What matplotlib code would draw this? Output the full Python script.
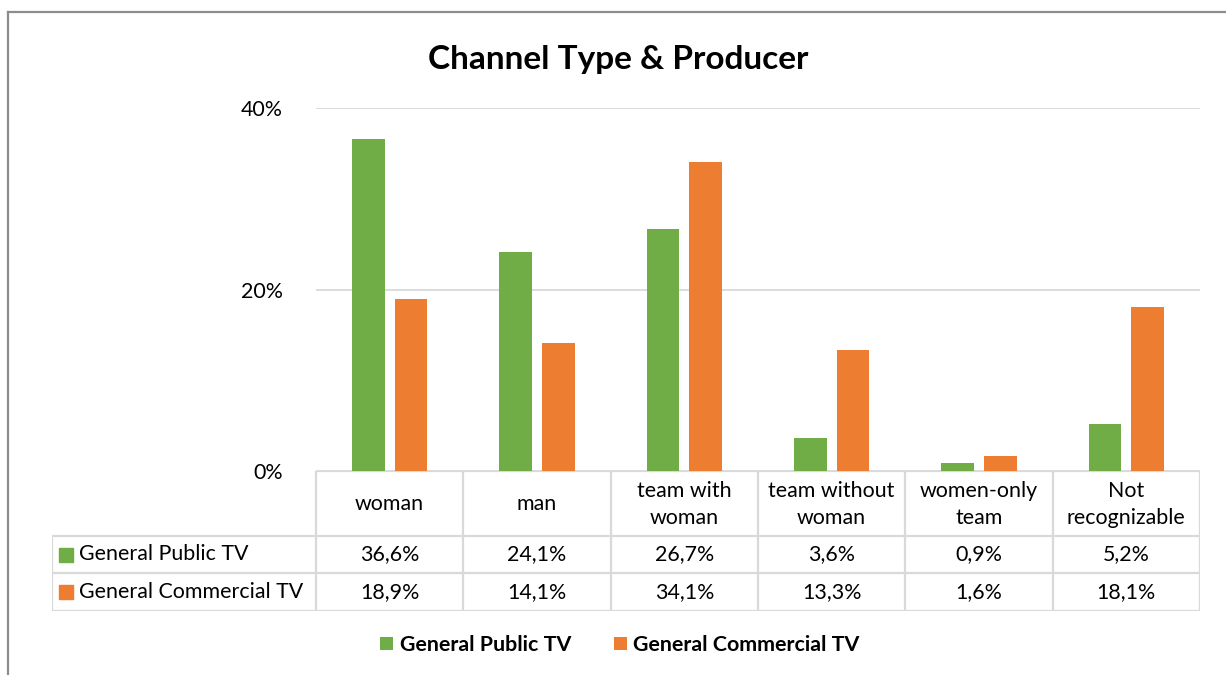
import numpy as np
import matplotlib.pyplot as plt
from matplotlib.lines import Line2D

# -----------------------------------
# DATOS
# -----------------------------------

categorias = ["woman", "man", "team with\nwoman", "team without\nwoman",
              "women-only\nteam", "Not\nrecognizable"]
series = ["General Public TV", "General Commercial TV"]
publico = [36.6, 24.1, 26.7, 3.6, 0.9, 5.2]
comercial = [18.9, 14.1, 34.1, 13.3, 1.6, 18.1]
ticks_y = [0, 20, 40]

VERDE = "#70AD47"
NARANJA = "#ED7D31"
GRIS_LINEA = "#D9D9D9"
TEXTO = "#000000"
FS = 15.4

plt.rcParams['font.family'] = ['Lato', 'DejaVu Sans']

W, H = 1226, 675
fig = plt.figure(figsize=(W / 100, H / 100), dpi=100)


def caja(x0, y0, x1, y1):
    # pixeles (origen arriba-izquierda) -> fraccion de figura
    return [x0 / W, 1 - y1 / H, (x1 - x0) / W, (y1 - y0) / H]


# borde del grafico
fig.add_artist(Line2D([8 / W, 1], [1 - 12 / H, 1 - 12 / H], color="#8C8C8C", lw=1.6))
fig.add_artist(Line2D([8 / W, 8 / W], [0, 1 - 12 / H], color="#8C8C8C", lw=1.6))

# -----------------------------------
# BARRAS
# -----------------------------------

ax = fig.add_axes(caja(316, 108, 1200, 471))
x = np.arange(len(categorias))
ancho = 0.22
ax.bar(x - 0.145, publico, ancho, color=VERDE, label=series[0], zorder=3)
ax.bar(x + 0.145, comercial, ancho, color=NARANJA, label=series[1], zorder=3)

ax.set_xlim(-0.5, len(categorias) - 0.5)
ax.set_ylim(0, 40)
ax.set_yticks(ticks_y)
ax.set_yticklabels([f"{t}%" for t in ticks_y], fontsize=FS, color=TEXTO)
ax.set_xticks([])
ax.tick_params(axis="y", length=0, pad=24)
ax.grid(axis="y", color=GRIS_LINEA, lw=1.3, zorder=0)
for s in ax.spines.values():
    s.set_visible(False)

ax.set_title("Channel Type & Producer", fontsize=24, fontweight="bold",
             x=(618 - 316) / (1200 - 316), y=1.0, pad=28)

# -----------------------------------
# TABLA DE DATOS
# -----------------------------------

px_por_cat = (1200 - 316) / len(categorias)
izq = -0.5 - (316 - 52) / px_por_cat
tax = fig.add_axes(caja(52, 471, 1200, 611))
tax.set_xlim(izq, len(categorias) - 0.5)
tax.set_ylim(611, 471)
tax.axis("off")

y_cab, y_f1, y_f2, y_fin = 471, 536, 573, 611
lk = dict(color=GRIS_LINEA, lw=1.6, solid_capstyle="projecting")

tax.plot([-0.5, len(categorias) - 0.5], [y_cab, y_cab], **lk)
for yy in (y_f1, y_f2, y_fin):
    tax.plot([izq, len(categorias) - 0.5], [yy, yy], **lk)
for i in range(len(categorias) + 1):
    tax.plot([i - 0.5, i - 0.5], [y_cab, y_fin], **lk)
tax.plot([izq, izq], [y_f1, y_fin], **lk)

for i, cat in enumerate(categorias):
    tax.text(i, (y_cab + y_f1) / 2 + 1, cat, ha="center", va="center",
             fontsize=FS, color=TEXTO, linespacing=1.45)

filas = [(series[0], publico, VERDE, (y_f1 + y_f2) / 2),
         (series[1], comercial, NARANJA, (y_f2 + y_fin) / 2)]
for nombre, valores, color, yc in filas:
    tax.plot(izq + 14 / px_por_cat, yc, marker="s", ms=9.5, color=color,
             linestyle="none")
    tax.text(izq + 27 / px_por_cat, yc, nombre, ha="left", va="center",
             fontsize=FS, color=TEXTO)
    for i, v in enumerate(valores):
        tax.text(i, yc, f"{v:.1f}%".replace(".", ","), ha="center",
                 va="center", fontsize=FS, color=TEXTO)

# -----------------------------------
# LEYENDA
# -----------------------------------

handles, labels = ax.get_legend_handles_labels()
fig.legend(handles, labels, loc="center", bbox_to_anchor=(620 / W, 1 - 645 / H),
           ncol=2, frameon=False, prop={"size": FS, "weight": "bold"},
           handlelength=0.6, handleheight=0.6, handletextpad=0.3,
           columnspacing=2.0)

fig.savefig("out.png", dpi=100)
